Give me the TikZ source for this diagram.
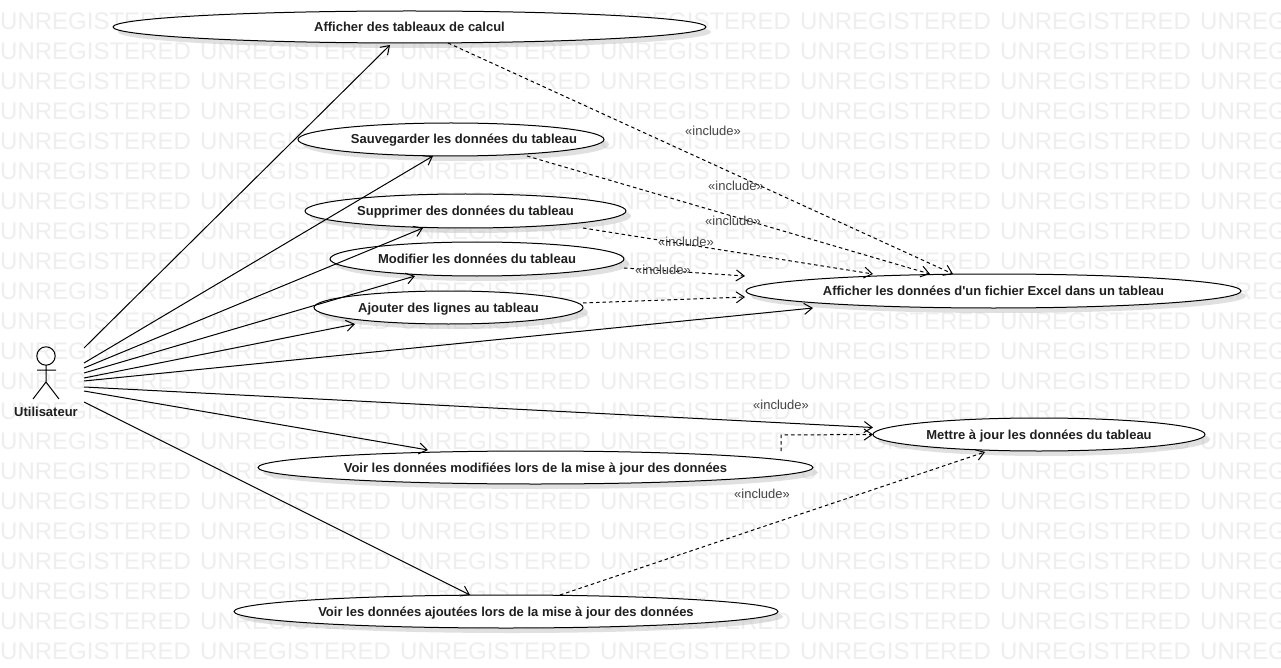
\documentclass[tikz,border=0pt]{standalone}
\usepackage{fontspec}
\setmainfont{Liberation Sans}
\newfontfamily\plainsans{Liberation Sans}
\usetikzlibrary{shapes.geometric,arrows.meta,calc,shadows}
\definecolor{wmgray}{gray}{0.935}
\definecolor{inclgray}{gray}{0.27}
\tikzset{
  boldtext/.style={font=\fontsize{13}{15}\selectfont\bfseries,text=black!88,text height=10pt,text depth=1pt},
  usecase/.style={ellipse,draw=black,line width=1pt,fill=white,inner sep=0pt,outer sep=0pt,
    minimum width=#1,boldtext,
    drop shadow={shadow xshift=5pt,shadow yshift=-5pt,fill=black!24,opacity=0.5}},
  assoc/.style={draw=black,line width=1pt,-{Straight Barb[length=8pt,width=11pt]}},
  incl/.style={draw=black,line width=1pt,dash pattern=on 3.5pt off 3pt,-{Straight Barb[length=8pt,width=11pt]}},
  incltext/.style={text=inclgray,font=\fontsize{13}{15}\selectfont,inner sep=0pt},
  wm/.style={text=wmgray,font=\fontsize{24}{26}\selectfont,anchor=west,inner sep=0pt},
  stick/.style={draw=black,line width=1pt}
}
\begin{document}
\begin{tikzpicture}[x=1pt,y=-1pt]
\clip (0,0) rectangle (1281,668);
\fill[white] (0,0) rectangle (1281,668);
\foreach \r in {0,...,21}{
  \foreach \c in {0,...,6}{
    \node[wm] (wm\r c\c) at ({200*\c},{21+30*\r}) {UNREGISTERED};
  }
}
% actor
\node[inner sep=0pt,outer sep=0pt,minimum width=26pt,minimum height=52pt] (actor) at (46,373) {};
\draw[stick] (46,356) circle (9.2);
\draw[stick] (46,365) -- (46,382) (37,370) -- (56,370) (33,399) -- (46,382) -- (59,399);
\node[inner sep=0pt,boldtext] (actorlabel) at (46,412) {Utilisateur};
% use cases
\node[usecase=593pt,minimum height=32pt] (uc1) at (409.5,27) {Afficher des tableaux de calcul};
\node[usecase=306pt,minimum height=33pt] (uc2) at (451,139.5) {};
\node[inner sep=0pt,boldtext] (uc2text) at (464,139.5) {Sauvegarder les données du tableau};
\node[usecase=321pt,minimum height=34pt] (uc3) at (465.5,211) {Supprimer des données du tableau};
\node[usecase=294pt,minimum height=34pt] (uc4) at (477,259) {Modifier les données du tableau};
\node[usecase=269pt,minimum height=33pt] (uc5) at (448.5,307.5) {Ajouter des lignes au tableau};
\node[usecase=495pt,minimum height=34pt] (uc6) at (993.5,291) {Afficher les données d{\plainsans\bfseries '}un fichier Excel dans un tableau};
\node[usecase=332pt,minimum height=33pt] (uc7) at (1039,434.5) {Mettre à jour les données du tableau};
\node[usecase=555pt,minimum height=33pt] (uc8) at (535.5,467.5) {Voir les données modifiées lors de la mise à jour des données};
\node[usecase=544pt,minimum height=33pt] (uc9) at (506,611.5) {Voir les données ajoutées lors de la mise à jour des données};
% associations
\draw[assoc] ($(actor.east)+(25,-25)$) -- ($(uc1.south)+(-19.5,2)$);
\draw[assoc] ($(actor.east)+(25,-10)$) -- ($(uc2.south)+(-18,0)$);
\draw[assoc] ($(actor.east)+(25,-5)$) -- ($(uc3.south)+(-42.5,0)$);
\draw[assoc] ($(actor.east)+(25,0)$) -- ($(uc4.south)+(-62,0)$);
\draw[assoc] ($(actor.east)+(25,5)$) -- ($(uc5.south)+(-93.5,0)$);
\draw[assoc] ($(actor.east)+(25,8)$) -- ($(uc6.south)+(-180.5,0)$);
\draw[assoc] ($(actor.east)+(25,14)$) -- ($(uc7.west)+(0,-7)$);
\draw[assoc] ($(actor.east)+(25,18)$) -- ($(uc8.north)+(-107.5,-1)$);
\draw[assoc] ($(actor.east)+(25,29)$) -- ($(uc9.north)+(-36,0)$);
% includes
\draw[incl] ($(uc1.south)+(38.5,0)$) -- ($(uc6.north)+(-40.5,0)$);
\draw[incl] ($(uc2.south)+(76,0)$) -- ($(uc6.north)+(-63.5,0)$);
\draw[incl] ($(uc3.south)+(117.5,0)$) -- ($(uc6.north)+(-120.5,0)$);
\draw[incl] ($(uc4.south)+(147,-8)$) -- ($(uc6.west)+(-1,-15)$);
\draw[incl] ($(uc5.east)+(0,-4.5)$) -- ($(uc6.west)+(-1,6)$);
\draw[incl] ($(uc8.north)+(245.5,0)$) -- ($(uc8.north)+(245.5,-16)$) -- (uc7.west);
\draw[incl] ($(uc9.north)+(54,0)$) -- ($(uc7.south)+(-54,1)$);
% include labels
\node[incltext] (i1) at (713,131) {«include»};
\node[incltext] (i2) at (736,186) {«include»};
\node[incltext] (i3) at (733,221) {«include»};
\node[incltext] (i4) at (686,242) {«include»};
\node[incltext] (i5) at (663,270) {«include»};
\node[incltext] (i6) at (781,405) {«include»};
\node[incltext] (i7) at (762,494) {«include»};
\end{tikzpicture}
\end{document}
